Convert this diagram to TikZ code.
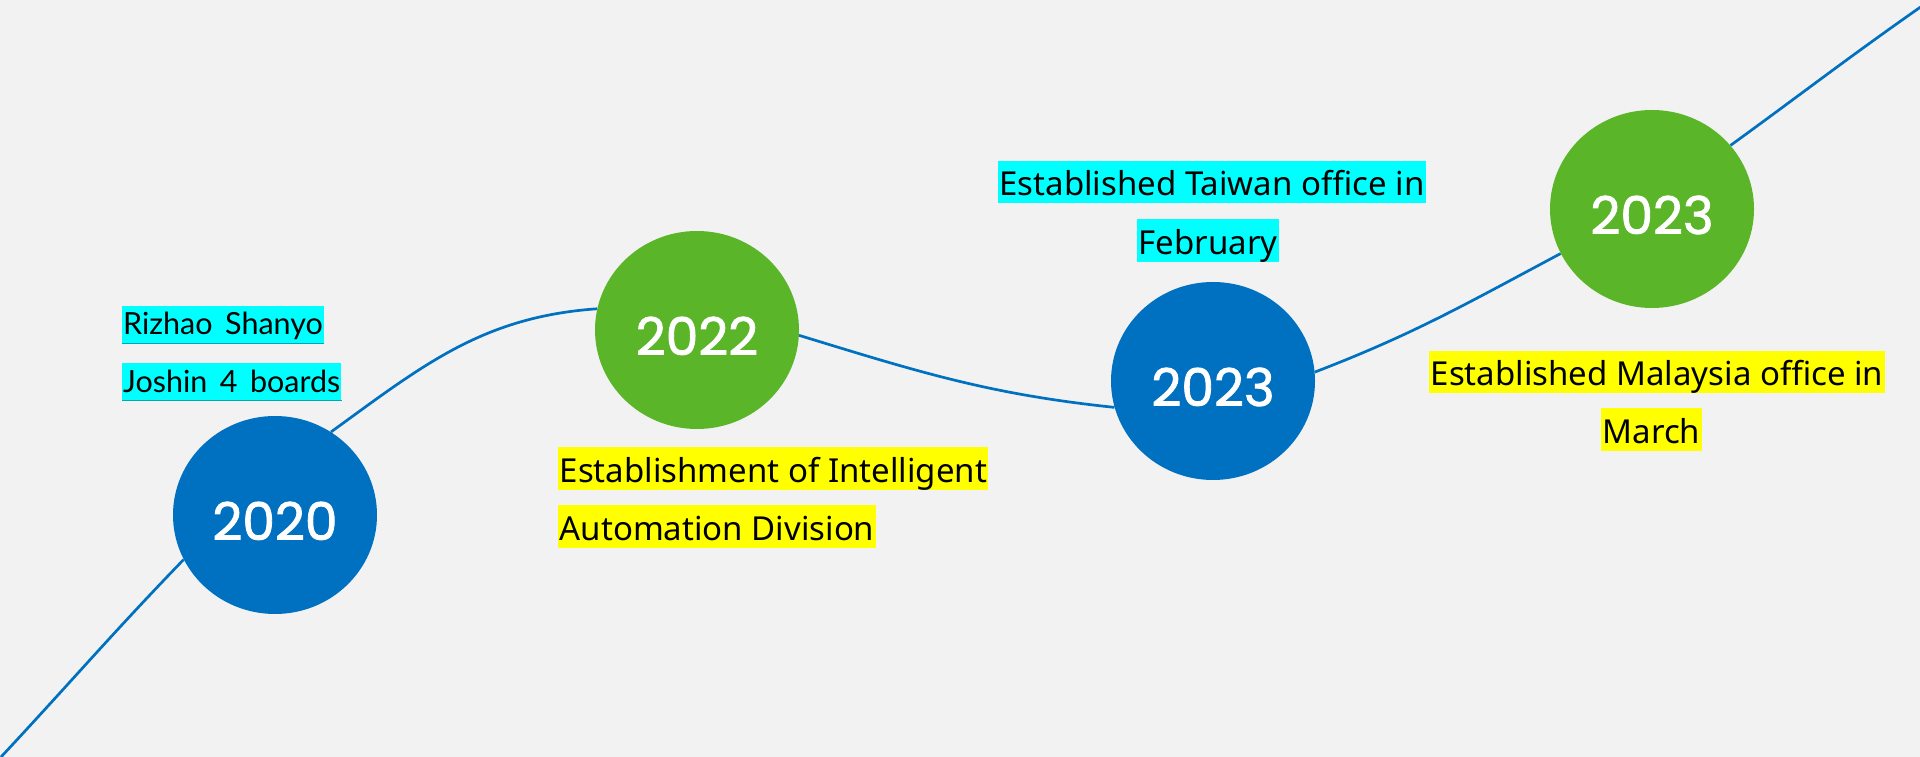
\documentclass[tikz,border=0pt]{standalone}
\usepackage{fontspec}
\setmainfont{Noto Sans}
\newfontfamily\yearfont{Poppins}[FakeBold=1.6]
\newfontfamily\notefont{Lato}[WordSpace=1.6]
\usetikzlibrary{shapes.geometric}
\pgfdeclarelayer{bg}
\pgfdeclarelayer{lines}
\pgfsetlayers{bg,lines,main}
\definecolor{bgc}{RGB}{242,242,242}
\definecolor{tblue}{RGB}{0,112,192}
\definecolor{tgreen}{RGB}{91,181,41}
\definecolor{hcyan}{RGB}{0,255,255}
\definecolor{hyellow}{RGB}{255,255,0}
\definecolor{cyanedge}{RGB}{0,170,170}
\begin{document}
\begin{tikzpicture}[x=1pt,y=1pt,
  year/.style={ellipse, minimum width=204pt, minimum height=198pt, inner sep=0pt,
    text=white, font=\yearfont\fontsize{52}{52}\selectfont, text height=50pt, text depth=0pt},
  bluey/.style={year, fill=tblue},
  greeny/.style={year, fill=tgreen},
  tl/.style={draw=tblue, line width=2.7pt},
  hl/.style={inner xsep=1.5pt, inner ysep=0pt, text height=35pt, text depth=7.5pt,
    font=\fontsize{33}{33}\selectfont, text=black},
  nl/.style={inner xsep=1pt, inner ysep=0pt, text height=29pt, text depth=8pt,
    font=\notefont\fontsize{30.5}{30.5}\selectfont, text=black, fill=hcyan},
]
\begin{pgfonlayer}{bg}
  \fill[bgc] (0,0) rectangle (1920,757);
\end{pgfonlayer}
\useasboundingbox (0,0) rectangle (1920,757);

% year circles
\node[bluey]  (y2020)  at (275,242) {2020};
\node[greeny] (y2022)  at (697,427) {2022};
\node[bluey]  (y2023a) at (1213,376) {2023};
\node[greeny] (y2023b) at (1652,548) {2023};

% free ends of the timeline
\coordinate (tstart) at (1,0);
\coordinate (tend) at (1922,751);

% timeline
\begin{pgfonlayer}{lines}
  \draw[tl] (tstart) to[out=47,in=226] (y2020.206);
  \draw[tl] (y2020.56) to[out=36,in=184] (y2022.168);
  \draw[tl] (y2022.-3) to[out=-17,in=174] (y2023a.195);
  \draw[tl] (y2023a.5) to[out=21,in=208] (y2023b.206);
  \draw[tl] (y2023b.39) to[out=36,in=215] (tend);
\end{pgfonlayer}

% labels
\node[nl, anchor=west] (rz) at (122,432.5) {Rizhao Shanyo};
\node[nl, anchor=west] (js) at (122,375) {Joshin 4 boards};
\draw[cyanedge, line width=0.8pt] (rz.south west) -- (rz.south east);
\draw[cyanedge, line width=0.8pt] (js.south west) -- (js.south east);

\node[hl, fill=hyellow, anchor=west] (ea) at (558,288.5) {Establishment of Intelligent};
\node[hl, fill=hyellow, anchor=west] (eb) at (558,230.5) {Automation Division};

\node[hl, fill=hcyan] (ta) at (1212,575) {Established Taiwan office in\ };
\node[hl, fill=hcyan] (tb) at (1208,516.5) {February};

\node[hl, fill=hyellow] (ma) at (1657,385) {Established Malaysia office in\ };
\node[hl, fill=hyellow] (mb) at (1651.5,327.5) {March};
\end{tikzpicture}
\end{document}
